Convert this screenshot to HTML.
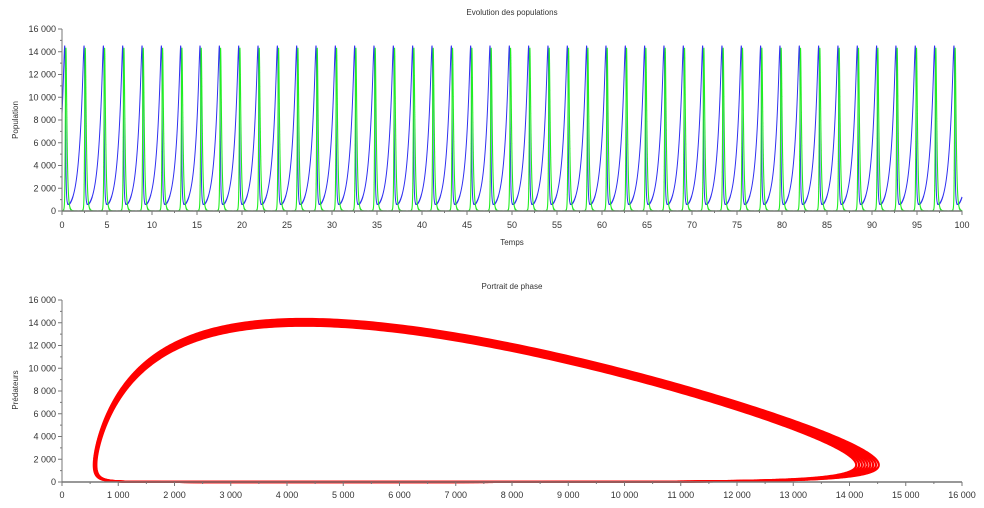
<!DOCTYPE html>
<html><head><meta charset="utf-8">
<style>
html,body{margin:0;padding:0;background:#fff;}
svg{display:block;font-family:"Liberation Sans",sans-serif;}
</style></head>
<body>
<svg id="s" width="984" height="508" viewBox="0 0 984 508" xmlns="http://www.w3.org/2000/svg">
<rect width="984" height="508" fill="#fff"/>
<g id="top"></g>
<g id="bot"></g>
<g id="axes"></g>
</svg>
<script>
(function(){
const NS="http://www.w3.org/2000/svg";
function el(p,t,a,txt){const e=document.createElementNS(NS,t);for(const k in a)e.setAttribute(k,a[k]);if(txt!==undefined)e.textContent=txt;p.appendChild(e);return e;}
const A=1,D=5.43,B=1/1500,C=D/4300;
function f(x,y){return [A*x-B*x*y, C*x*y-D*y];}
function step(x,y,h){
 const k1=f(x,y),k2=f(x+h/2*k1[0],y+h/2*k1[1]),k3=f(x+h/2*k2[0],y+h/2*k2[1]),k4=f(x+h*k3[0],y+h*k3[1]);
 return [x+h/6*(k1[0]+2*k2[0]+2*k3[0]+k4[0]), y+h/6*(k1[1]+2*k2[1]+2*k3[1]+k4[1])];
}
const H=0.0002;
function period(x0,y0){
 let x=x0,y=y0,t=0,prevdx=0;
 for(let i=0;i<500000;i++){
  const s=step(x,y,H);t+=H;
  const dx=s[0]-x;x=s[0];y=s[1];
  if(i>100 && prevdx>0 && dx<=0) return t;
  prevdx=dx;
 }
 return 10;
}
const x0=14500,y0=1500;
const T=period(x0,y0);
const Tp=2.148, sc=Tp/T;
const ax=t=>62+9*t, ayT=v=>211-v*182/16000;
const top=document.getElementById('top');
function sim(tStart,tEnd,dir){
 let x=x0,y=y0,t=tStart;const pts=[[t,x,y]];
 const hs=H*dir;
 let n=Math.ceil(Math.abs(tEnd-tStart)/sc/H);
 for(let i=0;i<n;i++){const s=step(x,y,hs);x=s[0];y=s[1];t+=hs*sc;if(i%3==0)pts.push([t,x,y]);}
 return pts;
}
const fw=sim(0.3,100,1), bw=sim(0.3,0,-1).reverse();
const all=bw.concat(fw).filter(p=>p[0]>=0&&p[0]<=100);
let pb="",pg="";
all.forEach((p,i)=>{pb+=(i?"L":"M")+ax(p[0]).toFixed(2)+","+ayT(p[1]).toFixed(2);pg+=(i?"L":"M")+ax(p[0]).toFixed(2)+","+ayT(p[2]).toFixed(2);});
el(top,'path',{d:pb,fill:'none',stroke:'#3030f0','stroke-width':1});
el(top,'path',{d:pg,fill:'none',stroke:'#22ee22','stroke-width':1.1});
const bot=document.getElementById('bot');
const bx=x=>62+x*900/16000, by=y=>482-y*182/16000;
for(let k=0;k<9;k++){
 let x=14120+k*50,y=1500;let d="M"+bx(x).toFixed(2)+","+by(y).toFixed(2);
 const n=Math.ceil(T/H)+50;
 for(let i=0;i<n;i++){const s=step(x,y,H);x=s[0];y=s[1];if(i%8==0)d+="L"+bx(x).toFixed(2)+","+by(y).toFixed(2);}
 el(bot,'path',{d:d,fill:'none',stroke:'#ff0000','stroke-width':2.2});
}
const g=document.getElementById('axes');
const ac='#777', tc='#333';
function fmt(v){return v>=1000?(Math.floor(v/1000)+" "+String(v%1000).padStart(3,'0')):String(v);}
function axesBox(y0,x0,x1,yTop){
 el(g,'line',{x1:x0,y1:y0,x2:x1,y2:y0,stroke:ac,'stroke-width':1.5});
 el(g,'line',{x1:x0,y1:y0,x2:x0,y2:yTop,stroke:ac,'stroke-width':1});
 for(let v=0;v<=16000;v+=1000){
  const y=y0-v*182/16000, maj=v%2000==0;
  el(g,'line',{x1:x0-(maj?4:2),y1:y,x2:x0,y2:y,stroke:ac,'stroke-width':1});
  if(maj)el(g,'text',{x:x0-6,y:y+3,'font-size':9,fill:tc,'text-anchor':'end'},fmt(v));
 }
}
axesBox(211,62,962,29);
axesBox(482,62,962,300);
for(let t=0;t<=100;t+=2.5){const x=ax(t),maj=t%5==0;
 el(g,'line',{x1:x,y1:211,x2:x,y2:211+(maj?4:2),stroke:ac,'stroke-width':1});
 if(maj)el(g,'text',{x:x,y:228,'font-size':9,fill:tc,'text-anchor':'middle'},String(t));}
for(let v=0;v<=16000;v+=500){const x=bx(v),maj=v%1000==0;
 el(g,'line',{x1:x,y1:482,x2:x,y2:482+(maj?4:2),stroke:ac,'stroke-width':1});
 if(maj)el(g,'text',{x:x,y:498,'font-size':9,fill:tc,'text-anchor':'middle'},fmt(v));}
el(g,'text',{x:512,y:15,'font-size':8,fill:tc,'text-anchor':'middle'},'Evolution des populations');
el(g,'text',{x:512,y:245,'font-size':8,fill:tc,'text-anchor':'middle'},'Temps');
el(g,'text',{x:512,y:289,'font-size':8,fill:tc,'text-anchor':'middle'},'Portrait de phase');
el(g,'text',{x:18,y:120,'font-size':8,fill:tc,'text-anchor':'middle',transform:'rotate(-90 18 120)'},'Population');
el(g,'text',{x:18,y:390,'font-size':8,fill:tc,'text-anchor':'middle',transform:'rotate(-90 18 390)'},'Prédateurs');
})();
</script>
</body></html>
